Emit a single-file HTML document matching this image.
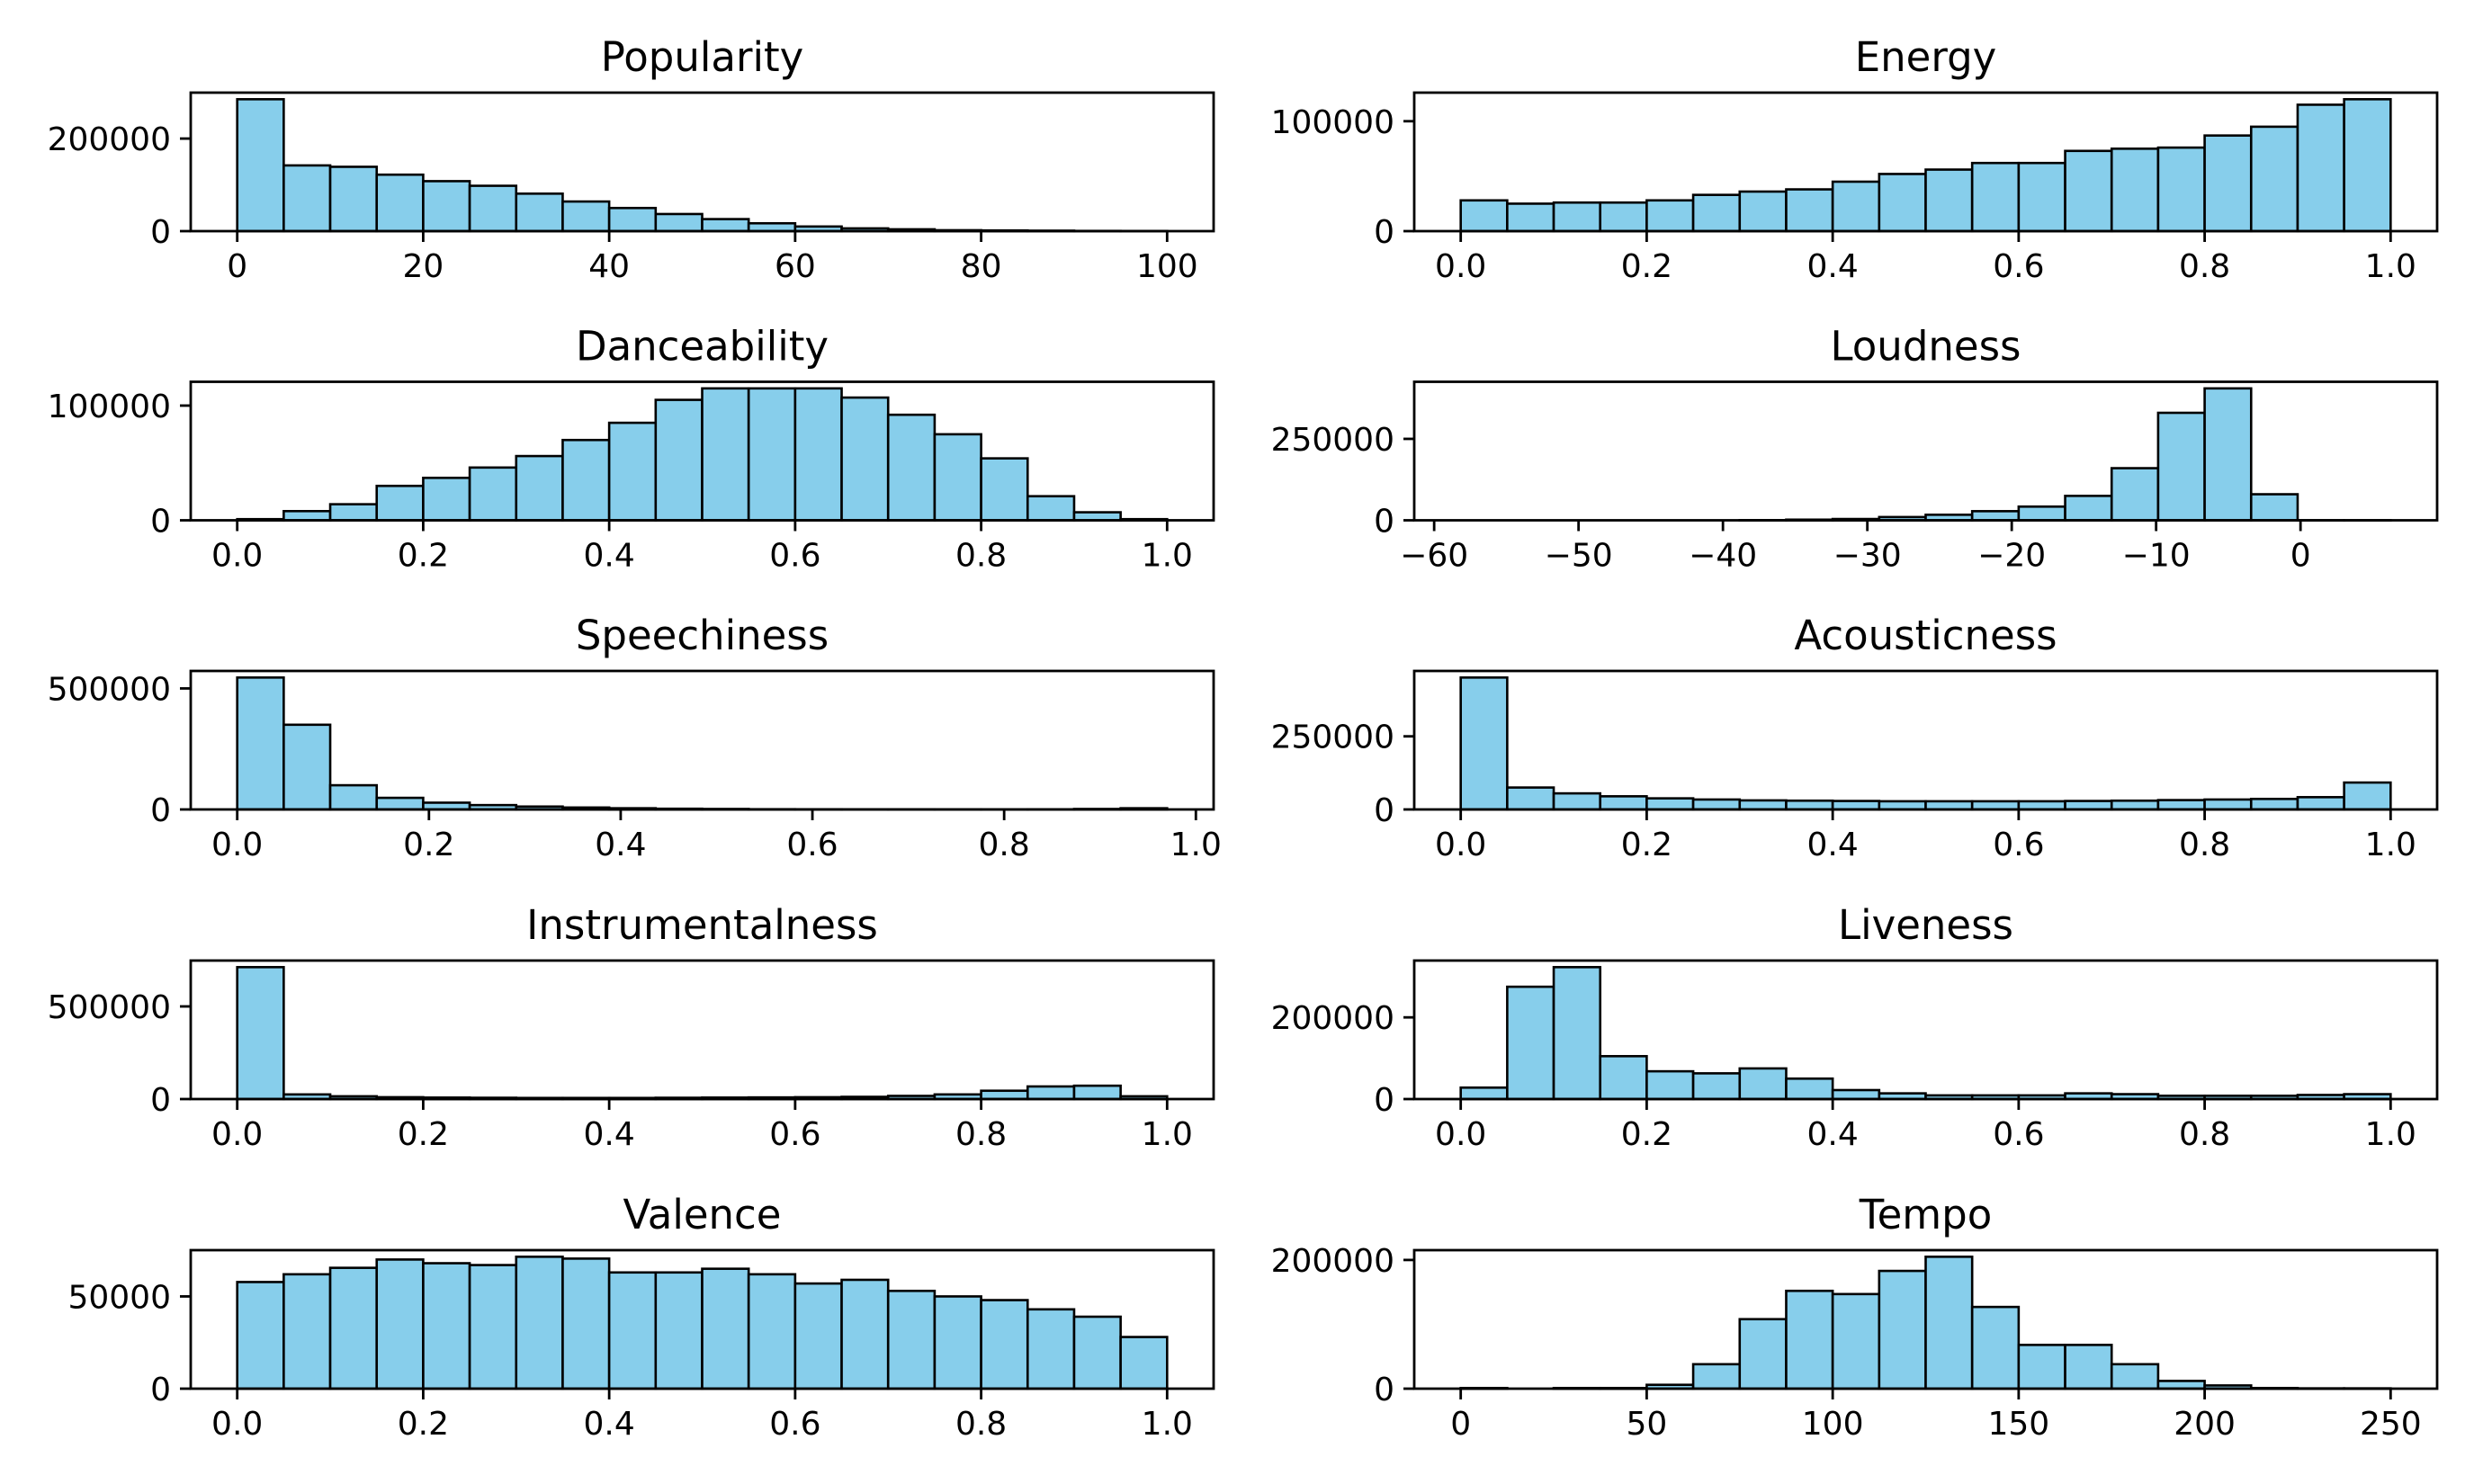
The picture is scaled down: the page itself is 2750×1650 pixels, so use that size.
<!DOCTYPE html>
<html><head><meta charset="utf-8"><style>
html,body{margin:0;padding:0;background:#fff}
svg{display:block}
text{font-family:"DejaVu Sans","Liberation Sans",sans-serif;fill:#000}
</style></head>
<body>
<svg id="fig" width="2750" height="1650" viewBox="0 0 2750 1650" xmlns="http://www.w3.org/2000/svg"></svg>
<script>
// ---- data ----
const titles = ["Popularity","Energy","Danceability","Loudness","Speechiness","Acousticness","Instrumentalness","Liveness","Valence","Tempo"];
const binRanges = [[0,100],[0,1],[0,1],[-58.16,6.24],[0,0.97],[0,1],[0,1],[0,1],[0,1],[0,250]];
const popularityCounts = [285000,142000,139000,122000,108000,98000,81000,64000,50000,37000,26000,17000,10000,6000,4000,2000,1500,1000,500,300];
const energyCounts = [28000,25000,26000,26000,28000,33000,36000,38000,45000,52000,56000,62000,62000,73000,75000,76000,87000,95000,115000,120000];
const danceCounts = [1000,8000,14000,30000,37000,46000,56000,70000,85000,105000,115000,115000,115000,107000,92000,75000,54000,21000,7000,1000];
const loudnessCounts = [0,0,0,0,0,0,500,2000,4000,10000,17000,28000,42000,75000,160000,330000,405000,80000,100,100];
const speechCounts = [545000,350000,100000,48000,28000,18000,12000,8000,5000,3000,2000,1000,800,600,500,400,300,500,2000,5000];
const acousticCounts = [451000,75000,55000,45000,38000,34000,31000,30000,29000,28000,28000,28000,28000,29000,30000,32000,34000,36000,42000,92000];
const instrCounts = [712000,25000,15000,10000,8000,7000,6000,6000,6000,7000,8000,9000,10000,12000,17000,25000,45000,68000,72000,15000];
const livenessCounts = [28000,275000,323000,105000,68000,63000,75000,50000,22000,14000,9000,9000,9000,14000,12000,8000,8000,8000,10000,12000];
const valenceCounts = [57800,62000,65500,70000,68000,67000,71500,70500,63000,63000,65000,62000,57000,59000,53000,50000,48000,43000,39000,28000];
const tempoCounts = [1000,0,1000,1000,6000,38000,108000,152000,147000,183000,205000,127000,68000,68000,38000,12000,5000,1000,500,500];
const allCounts = [popularityCounts,energyCounts,danceCounts,loudnessCounts,speechCounts,acousticCounts,instrCounts,livenessCounts,valenceCounts,tempoCounts];
const xTicks = [[0,20,40,60,80,100],[0,0.2,0.4,0.6,0.8,1.0],[0,0.2,0.4,0.6,0.8,1.0],[-60,-50,-40,-30,-20,-10,0],[0,0.2,0.4,0.6,0.8,1.0],[0,0.2,0.4,0.6,0.8,1.0],[0,0.2,0.4,0.6,0.8,1.0],[0,0.2,0.4,0.6,0.8,1.0],[0,0.2,0.4,0.6,0.8,1.0],[0,50,100,150,200,250]];
const xTickLabels = [["0","20","40","60","80","100"],["0.0","0.2","0.4","0.6","0.8","1.0"],["0.0","0.2","0.4","0.6","0.8","1.0"],["\u221260","\u221250","\u221240","\u221230","\u221220","\u221210","0"],["0.0","0.2","0.4","0.6","0.8","1.0"],["0.0","0.2","0.4","0.6","0.8","1.0"],["0.0","0.2","0.4","0.6","0.8","1.0"],["0.0","0.2","0.4","0.6","0.8","1.0"],["0.0","0.2","0.4","0.6","0.8","1.0"],["0","50","100","150","200","250"]];
const yTicks = [[0,200000],[0,100000],[0,100000],[0,250000],[0,500000],[0,250000],[0,500000],[0,200000],[0,50000],[0,200000]];

// ---- layout ----
const NS = "http://www.w3.org/2000/svg";
const svg = document.getElementById("fig");
const colX = [212, 1572], axW = 1137, rowY = [103, 424.5, 746, 1068, 1390], axH = 154;
function mk(tag, attrs, parent){const e=document.createElementNS(NS,tag);for(const k in attrs)e.setAttribute(k,attrs[k]);(parent||svg).appendChild(e);return e;}
function slug(s){return s.toLowerCase();}

titles.forEach((title, i) => {
  const x0 = colX[i%2], y0 = rowY[Math.floor(i/2)];
  const counts = allCounts[i];
  const [lo, hi] = binRanges[i];
  const n = counts.length, bw = (hi-lo)/n;
  const pad = (hi-lo)*0.05;
  const xmin = lo-pad, xmax = hi+pad;
  const ymax = Math.max(...counts)*1.05;
  const sx = v => x0 + (v-xmin)/(xmax-xmin)*axW;
  const sy = v => y0 + axH - v/ymax*axH;
  const g = mk("g", {});
  
  
  counts.forEach((c, k) => {
    const xa = sx(lo+k*bw), xb = sx(lo+(k+1)*bw);
    const r = mk("rect", {x:xa, y:sy(c), width:xb-xa, height:sy(0)-sy(c), fill:"#87ceeb", stroke:"#000", "stroke-width":2.6}, g);
    
    
  });
  const frame = mk("rect", {x:x0, y:y0, width:axW, height:axH, fill:"none", stroke:"#000", "stroke-width":2.8}, g);
  
  
  xTicks[i].forEach((t, k) => {
    const x = sx(t);
    mk("line", {x1:x, x2:x, y1:y0+axH, y2:y0+axH+12, stroke:"#000", "stroke-width":2.8}, g);
    const tx = mk("text", {x:x, y:y0+axH+51, "text-anchor":"middle", "font-size":36}, g);
    tx.textContent = xTickLabels[i][k];
    
    
  });
  yTicks[i].forEach(t => {
    const y = sy(t);
    mk("line", {x1:x0-12, x2:x0, y1:y, y2:y, stroke:"#000", "stroke-width":2.8}, g);
    const ty = mk("text", {x:x0-22, y:y+13, "text-anchor":"end", "font-size":36}, g);
    ty.textContent = String(t);
    
    
  });
  const tt = mk("text", {x:x0+axW/2, y:y0-24, "text-anchor":"middle", "font-size":45}, g);
  tt.textContent = title;
  
  
});
</script>
</body></html>
